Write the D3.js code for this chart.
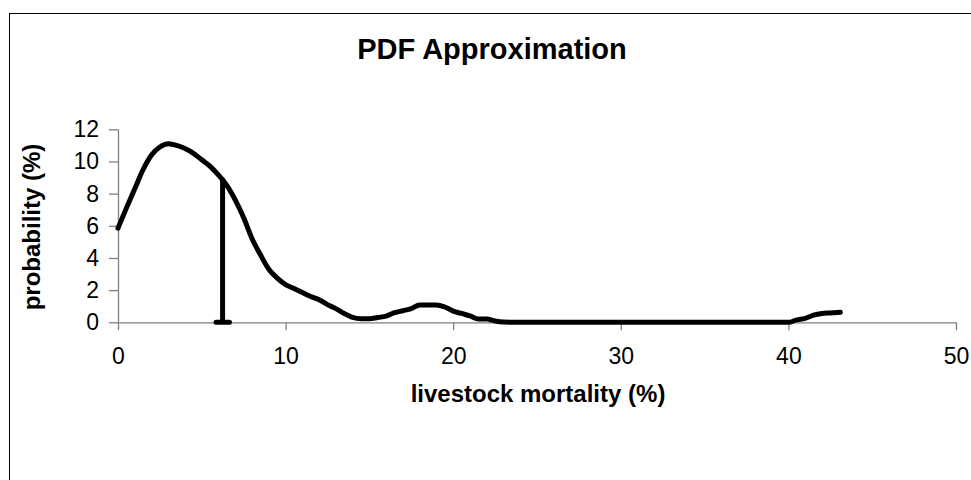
<!DOCTYPE html>
<html>
<head>
<meta charset="utf-8">
<script src="https://cdn.jsdelivr.net/npm/d3@7/dist/d3.min.js"></script>
<style>
  html, body { margin: 0; padding: 0; background: #fff; }
  svg { display: block; }
  text { font-family: "Liberation Sans", Arial, sans-serif; fill: #000; }
</style>
</head>
<body>
<svg id="chart" width="971" height="480"></svg>
<script>
// ---- data ----
const mortality = [
  0, 0.5, 1, 1.5, 2, 2.5, 3, 3.5, 4, 4.5, 5, 5.5, 6, 6.5, 7, 7.5, 8, 8.5, 9, 9.5,
  10, 10.5, 11, 11.5, 12, 12.5, 13, 13.5, 14, 14.5, 15, 15.5, 16, 16.5, 17, 17.5, 18, 18.5, 19, 19.5,
  20, 20.5, 21, 21.5, 22, 22.5, 23, 24, 25, 26, 27, 28, 29, 30, 31, 32, 33, 34, 35, 36, 37, 38, 39,
  40, 40.5, 41, 41.5, 42, 42.5, 43.1
];
const probability = [
  5.85, 7.1, 8.3, 9.5, 10.4, 10.9, 11.1, 11.0, 10.8, 10.5, 10.1, 9.7, 9.15, 8.5, 7.6, 6.5, 5.2, 4.2, 3.3, 2.75,
  2.35, 2.1, 1.85, 1.6, 1.4, 1.1, 0.85, 0.55, 0.3, 0.22, 0.22, 0.3, 0.38, 0.6, 0.72, 0.85, 1.08, 1.08, 1.08, 0.95,
  0.7, 0.55, 0.4, 0.2, 0.2, 0.08, 0.02, 0, 0, 0, 0, 0, 0, 0, 0, 0, 0, 0, 0, 0, 0, 0, 0,
  0, 0.15, 0.25, 0.45, 0.55, 0.58, 0.62
];
// marker line (vertical drop line at the estimate)
const markerX = [6.24, 6.24];
const markerY = [0, 8.95];
const baseMarkX = [5.85, 6.65];
const baseMarkY = [0, 0];

const xTicks = [0, 10, 20, 30, 40, 50];
const yTicks = [0, 2, 4, 6, 8, 10, 12];

const titleText = "PDF Approximation";
const xTitle = "livestock mortality (%)";
const yTitle = "probability (%)";

// ---- layout ----
const svg = d3.select("#chart");
const plot = { left: 118, right: 956, top: 129.3, bottom: 322.3 };

const x = d3.scaleLinear().domain([0, 50]).range([plot.left, plot.right]);
const y = d3.scaleLinear().domain([0, 12]).range([plot.bottom, plot.top]);

// outer frame (right/bottom edges fall outside the picture)
svg.append("rect")
  .attr("x", 9.5).attr("y", 13.5)
  .attr("width", 1000).attr("height", 1000)
  .attr("fill", "none").attr("stroke", "#000").attr("stroke-width", 1);

// title
svg.append("text")
  .attr("x", 492).attr("y", 59)
  .attr("text-anchor", "middle")
  .attr("font-size", 29).attr("font-weight", "bold")
  .text(titleText);

// axes
const xAxis = d3.axisBottom(x).tickValues(xTicks).tickSize(8).tickPadding(17);
const yAxis = d3.axisLeft(y).tickValues(yTicks).tickSize(9).tickPadding(10);

const gx = svg.append("g").attr("transform", `translate(0,${plot.bottom})`).call(xAxis);
const gy = svg.append("g").attr("transform", `translate(${plot.left},0)`).call(yAxis);

[gx, gy].forEach(g => {
  g.select(".domain").attr("stroke", "#808080").attr("stroke-width", 1.3);
  g.selectAll(".tick line").attr("stroke", "#808080").attr("stroke-width", 1.3);
  g.selectAll(".tick text")
    .attr("font-family", "'Liberation Sans', Arial, sans-serif")
    .attr("font-size", 23).attr("fill", "#000");
});
// remove outer tick caps of the domain lines
gx.select(".domain").attr("d", `M${plot.left},0.5H${plot.right}`);
gy.select(".domain").attr("d", `M0.5,${plot.bottom}V${plot.top}`);

// axis titles
svg.append("text")
  .attr("x", 538).attr("y", 402)
  .attr("text-anchor", "middle")
  .attr("font-size", 24).attr("font-weight", "bold")
  .text(xTitle);

svg.append("text")
  .attr("transform", `translate(40,227) rotate(-90)`)
  .attr("text-anchor", "middle")
  .attr("font-size", 24).attr("font-weight", "bold")
  .text(yTitle);

// curve
const pts = mortality.map((m, i) => [m, probability[i]]);
const line = d3.line().x(d => x(d[0])).y(d => y(d[1])).curve(d3.curveMonotoneX);

svg.append("path")
  .datum(pts)
  .attr("d", line)
  .attr("fill", "none").attr("stroke", "#000")
  .attr("stroke-width", 5).attr("stroke-linejoin", "round").attr("stroke-linecap", "round");

// marker lines
const lin = d3.line().x(d => x(d[0])).y(d => y(d[1]));
svg.append("path")
  .datum(markerX.map((m, i) => [m, markerY[i]]))
  .attr("d", lin)
  .attr("fill", "none").attr("stroke", "#000").attr("stroke-width", 5);
svg.append("path")
  .datum(baseMarkX.map((m, i) => [m, baseMarkY[i]]))
  .attr("d", lin)
  .attr("fill", "none").attr("stroke", "#000").attr("stroke-width", 5)
  .attr("stroke-linecap", "round");
</script>
</body>
</html>
